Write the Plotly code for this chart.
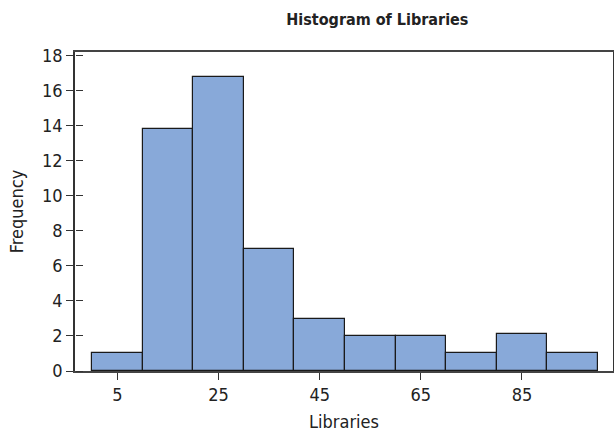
import plotly.graph_objects as go

bin_centers = [5, 15, 25, 35, 45, 55, 65, 75, 85, 95]
frequencies = [1, 13.8, 16.8, 6.95, 2.95, 2, 2, 1, 2.1, 1.05]
x_ticks = [5, 25, 45, 65, 85]
y_ticks = [0, 2, 4, 6, 8, 10, 12, 14, 16, 18]

FONT = "Liberation Sans Narrow, DejaVu Sans Condensed, Arial Narrow, sans-serif"

fig = go.Figure()
fig.add_trace(go.Bar(
    x=bin_centers, y=frequencies, width=[10] * len(bin_centers),
    marker=dict(color="#88A9D9", line=dict(color="#1a1a1a", width=1.2)),
    showlegend=False, hoverinfo="skip"))
# invisible trace for the inner-tick overlay axis
fig.add_trace(go.Scatter(x=[bin_centers[0]], y=[0], yaxis="y2", mode="markers",
                         marker=dict(opacity=0), showlegend=False, hoverinfo="skip"))

fig.update_layout(
    width=614, height=432,
    margin=dict(l=75, r=1, t=52, b=61, autoexpand=False),
    paper_bgcolor="white", plot_bgcolor="white",
    font=dict(family=FONT, size=18, color="#222"),
    title=dict(text="<b>Histogram of Libraries</b>", x=0.562, xanchor="center",
               xref="paper", y=0.956, yanchor="middle",
               font=dict(family=FONT, size=16, color="#222")),
    bargap=0,
    xaxis=dict(range=[-3.4, 103.0], tickvals=x_ticks, ticks="outside", ticklen=7,
               tickcolor="#333", showgrid=False, zeroline=False, showline=True,
               linecolor="#444", linewidth=1.5, mirror=True, automargin=False,
               title=dict(text="Libraries", standoff=12, font=dict(size=18)),
               tickfont=dict(size=18)),
    yaxis=dict(range=[0, 18.22], tickvals=y_ticks, ticks="outside", ticklen=7,
               tickcolor="#333", showgrid=False, zeroline=False, showline=True,
               linecolor="#333", linewidth=1.5, mirror=True, automargin=False,
               title=dict(text="Frequency", standoff=14, font=dict(size=18)),
               tickfont=dict(size=18)),
    yaxis2=dict(range=[0, 18.22], tickvals=y_ticks, ticks="outside", ticklen=7,
                tickcolor="#333", showticklabels=False, showgrid=False,
                zeroline=False, showline=False, overlaying="y", side="right",
                anchor="free", position=0, automargin=False),
)

fig.write_html("out.html", config={"displayModeBar": False},
               post_script="document.body.style.margin='0';document.body.style.padding='0';")
